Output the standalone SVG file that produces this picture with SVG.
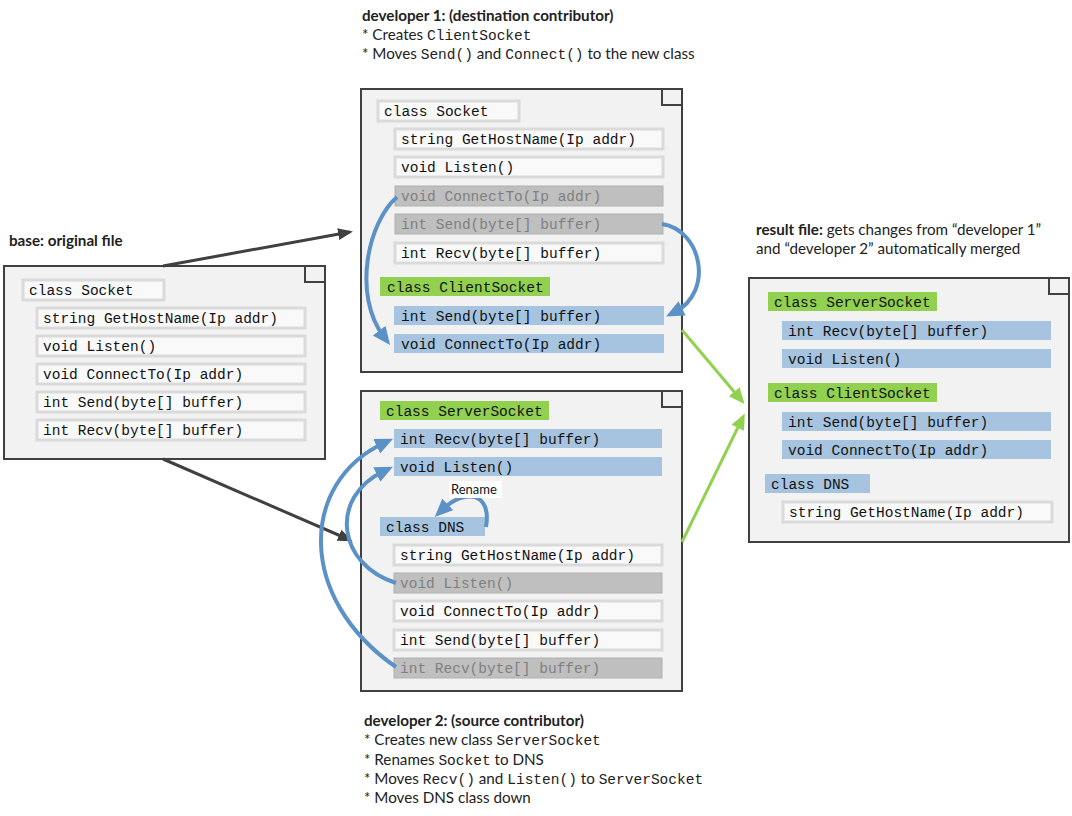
<svg xmlns="http://www.w3.org/2000/svg" width="1072" height="816" viewBox="0 0 1072 816">
<defs>
<style>
.box{fill:#f2f2f2;stroke:#404040;stroke-width:2}
.corner{fill:#f2f2f2;stroke:#404040;stroke-width:2}
.item{fill:#f9f9f9;stroke:#dadada;stroke-width:3}
.gone{fill:#bfbfbf;stroke:#b0b0b0;stroke-width:1}
.blue{fill:#a6c4df}
.green{fill:#92d050}
.code{font-family:"Liberation Mono","DejaVu Sans Mono",monospace;font-size:14.5px;fill:#111}
.gtext{fill:#7f7f7f}
.lbl{font-family:Lato,"Open Sans","Liberation Sans",sans-serif;font-size:15.2px;fill:#222}
.b{font-weight:bold}
.mono{font-family:"Liberation Mono","DejaVu Sans Mono",monospace;font-size:14.5px}
.dark{fill:none;stroke:#404040;stroke-width:3}
.bl{fill:none;stroke:#5a91c6;stroke-width:4}
.gr{fill:none;stroke:#92d050;stroke-width:3}
</style>
<marker id="ad" markerUnits="userSpaceOnUse" markerWidth="16" markerHeight="14" refX="12" refY="6" orient="auto"><path d="M0,0 L15,6 L0,12 z" fill="#404040"/></marker>
<marker id="ab" markerUnits="userSpaceOnUse" markerWidth="20" markerHeight="18" refX="8" refY="8" orient="auto"><path d="M0,0 L18,8 L0,16 z" fill="#5a91c6"/></marker>
<marker id="ag" markerUnits="userSpaceOnUse" markerWidth="18" markerHeight="16" refX="12" refY="7" orient="auto"><path d="M0,0 L16,7 L0,14 z" fill="#92d050"/></marker>
</defs>

<g id="labels">
<text class="lbl" x="362" y="21"><tspan class="b">developer 1: (destination contributor)</tspan></text>
<text class="lbl" x="362" y="40">* Creates <tspan class="mono">ClientSocket</tspan></text>
<text class="lbl" x="362" y="59">* Moves <tspan class="mono">Send()</tspan> and <tspan class="mono">Connect()</tspan> to the new class</text>
<text class="lbl b" x="9" y="246">base: original file</text>
<text class="lbl" x="756" y="235"><tspan class="b">result file:</tspan> gets changes from “developer 1”</text>
<text class="lbl" x="756" y="254">and “developer 2” automatically merged</text>
<text class="lbl b" x="364" y="726">developer 2: (source contributor)</text>
<text class="lbl" x="364" y="745">* Creates new class <tspan class="mono">ServerSocket</tspan></text>
<text class="lbl" x="364" y="765">* Renames <tspan class="mono">Socket</tspan> to DNS</text>
<text class="lbl" x="364" y="784">* Moves <tspan class="mono">Recv()</tspan> and <tspan class="mono">Listen()</tspan> to <tspan class="mono">ServerSocket</tspan></text>
<text class="lbl" x="364" y="803">* Moves DNS class down</text>
</g>

<g id="base">
<rect class="box" x="4" y="266" width="321" height="193"/>
<rect class="corner" x="305" y="266" width="20" height="16"/>
<rect class="item" x="23" y="280" width="141" height="20"/>
<text class="code" x="29" y="295">class Socket</text>
<rect class="item" x="37" y="308" width="268" height="20"/>
<text class="code" x="43" y="323">string GetHostName(Ip addr)</text>
<rect class="item" x="37" y="336" width="268" height="20"/>
<text class="code" x="43" y="351">void Listen()</text>
<rect class="item" x="37" y="364" width="268" height="20"/>
<text class="code" x="43" y="379">void ConnectTo(Ip addr)</text>
<rect class="item" x="37" y="392" width="268" height="20"/>
<text class="code" x="43" y="407">int Send(byte[] buffer)</text>
<rect class="item" x="37" y="420" width="268" height="20"/>
<text class="code" x="43" y="435">int Recv(byte[] buffer)</text>
</g>

<g id="dev1">
<rect class="box" x="361" y="89" width="321" height="283"/>
<rect class="corner" x="662" y="89" width="20" height="16"/>
<rect class="item" x="378" y="101" width="141" height="20"/>
<text class="code" x="384" y="116">class Socket</text>
<rect class="item" x="395" y="129" width="268" height="20"/>
<text class="code" x="401" y="144">string GetHostName(Ip addr)</text>
<rect class="item" x="395" y="157" width="268" height="20"/>
<text class="code" x="401" y="172">void Listen()</text>
<rect class="gone" x="395" y="186" width="268" height="20"/>
<text class="code gtext" x="401" y="201">void ConnectTo(Ip addr)</text>
<rect class="gone" x="395" y="214" width="268" height="20"/>
<text class="code gtext" x="401" y="229">int Send(byte[] buffer)</text>
<rect class="item" x="395" y="243" width="268" height="20"/>
<text class="code" x="401" y="258">int Recv(byte[] buffer)</text>
<rect class="green" x="380" y="277" width="170" height="19"/>
<text class="code" x="387" y="292">class ClientSocket</text>
<rect class="blue" x="394" y="306" width="270" height="19"/>
<text class="code" x="401" y="321">int Send(byte[] buffer)</text>
<rect class="blue" x="394" y="334" width="270" height="19"/>
<text class="code" x="401" y="349">void ConnectTo(Ip addr)</text>
</g>

<g id="dev2">
<rect class="box" x="361" y="391" width="321" height="300"/>
<rect class="corner" x="662" y="391" width="20" height="16"/>
<rect class="green" x="380" y="401" width="169" height="19"/>
<text class="code" x="386" y="416">class ServerSocket</text>
<rect class="blue" x="394" y="429" width="268" height="19"/>
<text class="code" x="400" y="444">int Recv(byte[] buffer)</text>
<rect class="blue" x="394" y="457" width="268" height="19"/>
<text class="code" x="400" y="472">void Listen()</text>
<rect class="blue" x="380" y="517" width="105" height="19"/>
<text class="code" x="386" y="532">class DNS</text>
<rect class="item" x="394" y="545" width="268" height="20"/>
<text class="code" x="400" y="560">string GetHostName(Ip addr)</text>
<rect class="gone" x="394" y="573" width="268" height="20"/>
<text class="code gtext" x="400" y="588">void Listen()</text>
<rect class="item" x="394" y="601" width="268" height="20"/>
<text class="code" x="400" y="616">void ConnectTo(Ip addr)</text>
<rect class="item" x="394" y="630" width="268" height="20"/>
<text class="code" x="400" y="645">int Send(byte[] buffer)</text>
<rect class="gone" x="394" y="658" width="268" height="20"/>
<text class="code gtext" x="400" y="673">int Recv(byte[] buffer)</text>
</g>

<g id="result">
<rect class="box" x="749" y="278" width="320" height="264"/>
<rect class="corner" x="1049" y="278" width="20" height="16"/>
<rect class="green" x="768" y="292" width="169" height="19"/>
<text class="code" x="774" y="307">class ServerSocket</text>
<rect class="blue" x="782" y="321" width="269" height="19"/>
<text class="code" x="788" y="336">int Recv(byte[] buffer)</text>
<rect class="blue" x="782" y="349" width="269" height="19"/>
<text class="code" x="788" y="364">void Listen()</text>
<rect class="green" x="768" y="383" width="169" height="19"/>
<text class="code" x="774" y="398">class ClientSocket</text>
<rect class="blue" x="782" y="412" width="269" height="19"/>
<text class="code" x="788" y="427">int Send(byte[] buffer)</text>
<rect class="blue" x="782" y="440" width="269" height="19"/>
<text class="code" x="788" y="455">void ConnectTo(Ip addr)</text>
<rect class="blue" x="765" y="474" width="105" height="19"/>
<text class="code" x="771" y="489">class DNS</text>
<rect class="item" x="783" y="502" width="269" height="20"/>
<text class="code" x="789" y="517">string GetHostName(Ip addr)</text>
</g>

<g id="connectors">
<path class="dark" d="M163,266 L350,232" marker-end="url(#ad)"/>
<path class="dark" d="M163,459 L350,540" marker-end="url(#ad)"/>
<path class="gr" d="M682,330 L742,401" marker-end="url(#ag)"/>
<path class="gr" d="M682,542 L743,417" marker-end="url(#ag)"/>
<path class="bl" d="M397,197 C368,222 352,295 384,337" marker-end="url(#ab)"/>
<path class="bl" d="M662,224 C702,230 714,292 675,312" marker-end="url(#ab)"/>
<path class="bl" d="M396,583 C338,565 328,498 384,471" marker-end="url(#ab)"/>
<path class="bl" d="M396,667 C296,598 300,482 384,443" marker-end="url(#ab)"/>
<path class="bl" d="M486,527 C492,492 465,488 442,510" marker-end="url(#ab)"/>
<rect x="449" y="481" width="53" height="17" fill="#fff"/>
<text x="451" y="494" style="font-family:Lato,'Open Sans','Liberation Sans',sans-serif;font-size:13px;fill:#111">Rename</text>
</g>
</svg>
